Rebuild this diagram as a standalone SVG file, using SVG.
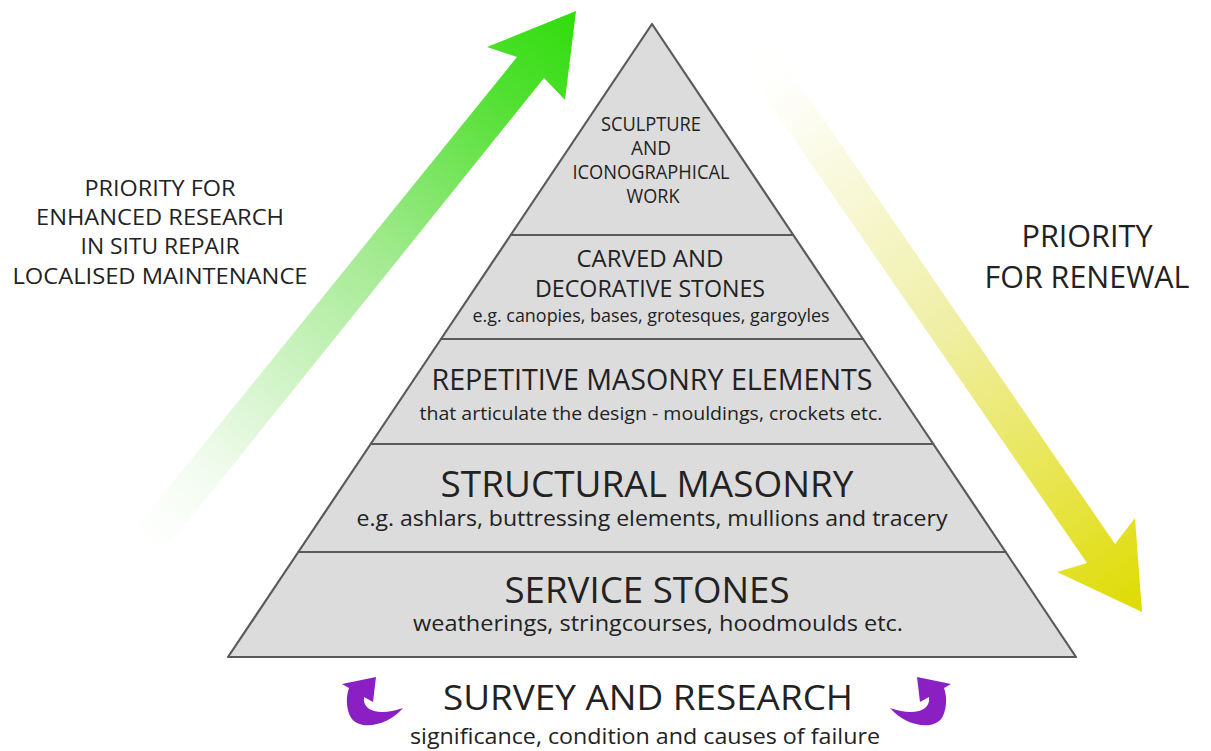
<svg xmlns="http://www.w3.org/2000/svg" width="1211" height="751" viewBox="0 0 1211 751">
<defs>
<linearGradient id="gGreen" gradientUnits="userSpaceOnUse" x1="576" y1="11" x2="120" y2="565">
<stop offset="0" stop-color="#30dc0c"/>
<stop offset="0.15" stop-color="#50e030"/>
<stop offset="0.45" stop-color="#a6eb94"/>
<stop offset="0.75" stop-color="#e4f8de"/>
<stop offset="1" stop-color="#ffffff" stop-opacity="0"/>
</linearGradient>
<linearGradient id="gYellow" gradientUnits="userSpaceOnUse" x1="1142" y1="612" x2="748" y2="42">
<stop offset="0" stop-color="#dedb00"/>
<stop offset="0.2" stop-color="#e7e446"/>
<stop offset="0.5" stop-color="#f0efa6"/>
<stop offset="0.8" stop-color="#fafae4"/>
<stop offset="1" stop-color="#ffffff" stop-opacity="0"/>
</linearGradient>
<style>
.band{fill:#dcdcdd;stroke:#5a5a5a;stroke-width:2.2;stroke-linejoin:round}
text{font-family:"Open Sans","Noto Sans","Liberation Sans",sans-serif;fill:#222;text-anchor:middle}
.purple{fill:#8a1fc4}
</style>
</defs>
<rect width="1211" height="751" fill="#ffffff"/>

<g id="connectors">
<polygon id="green-arrow" fill="url(#gGreen)" points="118,550 517,57 487,47 576,11 565,100 544,78 147,572"/>
<polygon id="yellow-arrow" fill="url(#gYellow)" points="768,38 1115,544 1135,518 1142,612 1057,572 1087,563 738,58"/>
<path id="purple-left" class="purple" d="M342,684 L376,677 L373,702 L364,697 C362,710 378,717 403,708 C388,726 358,732 350,716 C346,707 346,696 349,688 Z"/>
<path id="purple-right" class="purple" transform="translate(1293,0) scale(-1,1)" d="M342,684 L376,677 L373,702 L364,697 C362,710 378,717 403,708 C388,726 358,732 350,716 C346,707 346,696 349,688 Z"/>
</g>

<g id="label-left">
<text font-size="22" x="160" y="196" textLength="151" lengthAdjust="spacingAndGlyphs">PRIORITY FOR</text>
<text font-size="22" x="160" y="225" textLength="248" lengthAdjust="spacingAndGlyphs">ENHANCED RESEARCH</text>
<text font-size="22" x="160" y="254" textLength="159" lengthAdjust="spacingAndGlyphs">IN SITU REPAIR</text>
<text font-size="22" x="160" y="284" textLength="295" lengthAdjust="spacingAndGlyphs">LOCALISED MAINTENANCE</text>
</g>

<g id="label-right">
<text font-size="31" x="1087" y="247" textLength="131" lengthAdjust="spacingAndGlyphs">PRIORITY</text>
<text font-size="31" x="1087" y="288" textLength="205" lengthAdjust="spacingAndGlyphs">FOR RENEWAL</text>
</g>

<g id="band-sculpture">
<polygon class="band" points="652,24 793.3,235 510.7,235"/>
<text font-size="19.5" x="651" y="131" textLength="100" lengthAdjust="spacingAndGlyphs">SCULPTURE</text>
<text font-size="19.5" x="651" y="155" textLength="40" lengthAdjust="spacingAndGlyphs">AND</text>
<text font-size="19.5" x="651" y="179" textLength="157" lengthAdjust="spacingAndGlyphs">ICONOGRAPHICAL</text>
<text font-size="19.5" x="653" y="203" textLength="53" lengthAdjust="spacingAndGlyphs">WORK</text>
</g>

<g id="band-carved">
<polygon class="band" points="510.7,235 793.3,235 863,339 441,339"/>
<text font-size="24" x="650" y="267" textLength="147" lengthAdjust="spacingAndGlyphs">CARVED AND</text>
<text font-size="24" x="650" y="297" textLength="230" lengthAdjust="spacingAndGlyphs">DECORATIVE STONES</text>
<text font-size="17.5" x="651" y="322" textLength="357" lengthAdjust="spacingAndGlyphs">e.g. canopies, bases, grotesques, gargoyles</text>
</g>

<g id="band-repetitive">
<polygon class="band" points="441,339 863,339 933.3,444 370.7,444"/>
<text font-size="28.5" x="652" y="390" textLength="441" lengthAdjust="spacingAndGlyphs">REPETITIVE MASONRY ELEMENTS</text>
<text font-size="18.5" x="651" y="420" textLength="463" lengthAdjust="spacingAndGlyphs">that articulate the design - mouldings, crockets etc.</text>
</g>

<g id="band-structural">
<polygon class="band" points="370.7,444 933.3,444 1005.7,552 298.3,552"/>
<text font-size="36" x="647" y="497" textLength="413" lengthAdjust="spacingAndGlyphs">STRUCTURAL MASONRY</text>
<text font-size="22" x="652" y="526" textLength="591" lengthAdjust="spacingAndGlyphs">e.g. ashlars, buttressing elements, mullions and tracery</text>
</g>

<g id="band-service">
<polygon class="band" points="298.3,552 1005.7,552 1076,657 228,657"/>
<text font-size="36" x="647" y="603" textLength="285" lengthAdjust="spacingAndGlyphs">SERVICE STONES</text>
<text font-size="21" x="658" y="631" textLength="490" lengthAdjust="spacingAndGlyphs">weatherings, stringcourses, hoodmoulds etc.</text>
</g>

<g id="survey">
<text font-size="35" x="648" y="710" textLength="410" lengthAdjust="spacingAndGlyphs">SURVEY AND RESEARCH</text>
<text font-size="22" x="645" y="744" textLength="470" lengthAdjust="spacingAndGlyphs">significance, condition and causes of failure</text>
</g>
</svg>
